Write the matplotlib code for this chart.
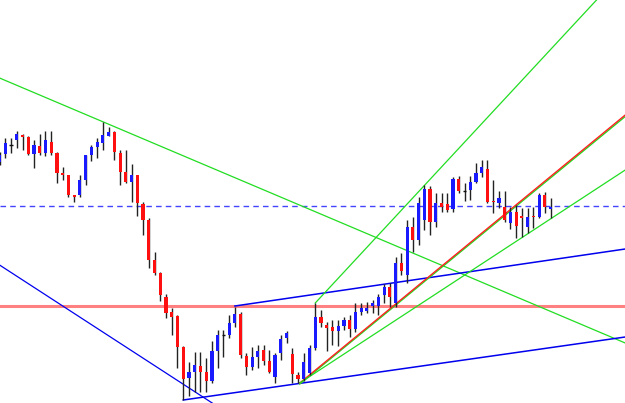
import matplotlib
matplotlib.use("Agg")
import matplotlib.pyplot as plt

# candle data (price units), index = bar number
opens = [241, 249, 258, 263, 268, 266, 249, 257, 250, 261,
         250, 230, 228, 208, 208, 223, 248, 256, 260, 267,
         271, 250, 231, 221, 228, 199, 183, 143, 130, 106,
         91, 87, 56, 25, 31, 37, 31, 22, 52, 68,
         68, 80, 89, 47, 36, 46, 53, 42, 26, 50,
         65, 49, 28, 24, 30, 55, 86, 78, 76, 72,
         77, 83, 74, 91, 92, 97, 97, 108, 116, 100,
         140, 128, 176, 163, 183, 214, 181, 200, 199, 194,
         224, 212, 213, 221, 230, 234, 202, 200, 196, 180,
         191, 187, 176, 187, 186, 208, 194]
closes = [248, 260, 258, 269, 266, 249, 258, 250, 263, 250,
          230, 228, 208, 206, 223, 248, 256, 261, 268, 271,
          251, 231, 221, 228, 200, 183, 143, 130, 108, 90,
          86, 56, 24, 31, 38, 31, 22, 52, 68, 68,
          80, 89, 48, 36, 46, 52, 42, 31, 48, 64,
          70, 29, 24, 41, 55, 86, 80, 75, 72, 77,
          83, 74, 91, 95, 95, 100, 106, 116, 106, 140,
          132, 176, 163, 200, 214, 181, 200, 196, 193, 224,
          212, 212, 221, 230, 236, 201, 201, 205, 183, 191,
          177, 185, 186, 186, 208, 196, 196]
highs = [251, 265, 265, 272, 269, 267, 263, 269, 272, 272,
         251, 236, 228, 208, 228, 248, 258, 265, 281, 276,
         272, 253, 253, 239, 228, 201, 185, 151, 131, 109,
         95, 88, 57, 41, 51, 51, 45, 62, 73, 73,
         88, 96, 91, 50, 56, 58, 58, 53, 50, 68,
         72, 55, 31, 50, 58, 100, 93, 81, 83, 83,
         86, 88, 100, 100, 101, 103, 109, 119, 120, 146,
         150, 183, 186, 206, 218, 217, 210, 210, 210, 226,
         227, 220, 227, 240, 243, 243, 223, 212, 212, 196,
         198, 195, 195, 196, 210, 211, 205]
lows = [238, 245, 250, 255, 253, 248, 235, 248, 247, 248,
        220, 223, 206, 201, 206, 218, 242, 245, 253, 267,
        243, 218, 220, 201, 187, 168, 135, 128, 102, 85,
        68, 35, 3, 7, 11, 11, 11, 20, 35, 46,
        65, 76, 45, 28, 33, 35, 38, 30, 20, 43,
        60, 20, 20, 22, 28, 53, 76, 52, 58, 57,
        73, 66, 71, 88, 90, 90, 88, 100, 96, 96,
        128, 120, 151, 158, 173, 168, 176, 191, 191, 191,
        210, 202, 203, 220, 226, 200, 190, 195, 181, 174,
        165, 166, 170, 175, 185, 190, 185]

# horizontal levels
red_level = 97
blue_level = 197

# trendlines: ((bar, price), (bar, price), colour, width)
trendlines = [
    ((0, 325), (109, 60), "#22dd22", 0.9),     # falling green
    ((0, 138), (40, -11), "#0000ee", 0.9),     # falling blue
    ((32, 3), (109, 66), "#0000ee", 1.1),      # channel bottom
    ((41, 97), (109, 154), "#0000ee", 1.1),    # channel top
    ((55, 100), (104, 403), "#22dd22", 0.9),   # steep green
    ((52.3, 19), (109, 286.5), "#22dd22", 1.0),  # green under red
    ((52.3, 20), (109, 288), "#ff2020", 1.0),  # red
    ((52.3, 20), (109, 233), "#22dd22", 0.9),  # lower green
]

fig = plt.figure(figsize=(6.25, 4.03), dpi=100)
ax = fig.add_axes([0, 0, 1, 1])
ax.set_xlim(0.08, 108.96)
ax.set_ylim(0, 403)
ax.axis("off")

ax.axhline(red_level, color="#ff8080", lw=2.2, zorder=1)
ax.axhline(blue_level, color="#4444ff", lw=1.0, ls=(0, (4, 3)), zorder=1)

for (x0, y0), (x1, y1), col, w in trendlines:
    ax.plot([x0, x1], [y0, y1], color=col, lw=w, zorder=2)

idx = list(range(len(opens)))
ax.vlines(idx, lows, highs, color="#222222", lw=1.0, zorder=3)
for i in idx:
    o, c = opens[i], closes[i]
    if o == c:
        ax.hlines(o, i - 0.3, i + 0.3, color="#111111", lw=1.0, zorder=4)
        continue
    col = "#1a1aff" if c > o else "#ff1010"
    ax.bar(i, abs(c - o), bottom=min(o, c), width=0.55, color=col, lw=0, zorder=4)

fig.savefig("out.png", dpi=100)
